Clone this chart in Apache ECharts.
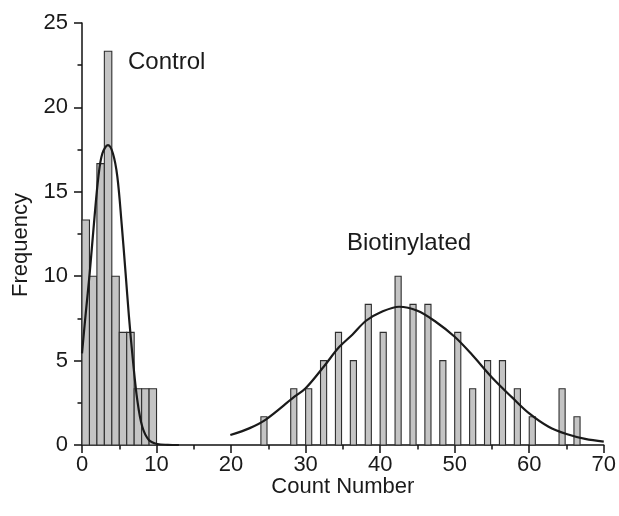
<!DOCTYPE html>
<html><head><meta charset="utf-8">
<script src="https://cdn.jsdelivr.net/npm/echarts@6/dist/echarts.min.js"></script>
<style>html,body{margin:0;padding:0;background:#fff}#c{width:619px;height:516px}</style>
</head><body><div id="c"></div>
<script>
// ---- data ----
const controlBinStart = [0, 1, 2, 3, 4, 5, 6, 7, 8, 9];
const controlFreq     = [13.33, 10, 16.67, 23.33, 10, 6.67, 6.67, 3.33, 3.33, 3.33];

const bioBinStart = [24, 26, 28, 30, 32, 34, 36, 38, 40, 42, 44, 46, 48, 50, 52, 54, 56, 58, 60, 62, 64, 66];
const bioFreq     = [1.67, 0, 3.33, 3.33, 5, 6.67, 5, 8.33, 6.67, 10, 8.33, 8.33, 5, 6.67, 3.33, 5, 5, 3.33, 1.67, 0, 3.33, 1.67];

const controlFitX = [0, 0.5, 1.03, 1.6, 2.2, 2.73, 3.48, 4.15, 4.74, 5.32, 5.85, 6.3, 6.83, 7.42, 8.09, 8.97, 10.1, 11.5, 13];
const controlFitY = [5.43, 7.8, 10.17, 13.1, 15.9, 17.27, 17.76, 17.27, 15.9, 13.1, 10.17, 7.6, 5.03, 2.66, 1.08, 0.3, 0.06, 0.01, 0];

const bioFitX = [19.9, 22.5, 24.7, 28.5, 30, 32.5, 34.5, 36.3, 38.1, 40, 42.55, 45, 47.45, 50, 52.36, 55, 57.7, 60, 62.6, 65, 67.5, 70];
const bioFitY = [0.59, 1.0, 1.52, 2.86, 3.36, 4.68, 5.8, 6.55, 7.36, 7.85, 8.19, 7.95, 7.3, 6.41, 5.33, 4.0, 2.82, 1.87, 1.08, 0.65, 0.36, 0.2];

const seriesLabels = ['Control', 'Biotinylated'];
const xAxisTitle = 'Count Number';
const yAxisTitle = 'Frequency';

// ---- chart ----
const FONT = '"Liberation Sans", Arial, Helvetica, sans-serif';
const TXT = '#1a1a1a';

function zip(a, b) { return a.map((v, i) => [v, b[i]]); }

function barRenderer(widthUnits) {
  return function (params, api) {
    const x0 = api.value(0), v = api.value(1);
    if (!v) return null;
    const pTop = api.coord([x0, v]);
    const pBase = api.coord([x0 + widthUnits, 0]);
    return {
      type: 'rect',
      shape: { x: pTop[0], y: pTop[1], width: pBase[0] - pTop[0], height: pBase[1] - pTop[1] },
      style: { fill: '#c4c4c4', stroke: '#2e2e2e', lineWidth: 1.1 }
    };
  };
}

const chart = echarts.init(document.getElementById('c'), null, { renderer: 'canvas' });
chart.setOption({
  animation: false,
  backgroundColor: '#fff',
  grid: { left: 82, right: 13, top: 23, bottom: 71, containLabel: false },
  xAxis: {
    type: 'value', min: 0, max: 70, interval: 10,
    name: xAxisTitle, nameLocation: 'middle', nameGap: 31, nameMoveOverlap: false,
    nameTextStyle: { fontFamily: FONT, fontSize: 22, color: TXT },
    axisLine: { show: true, onZero: false, lineStyle: { color: '#111', width: 1.5 } },
    axisTick: { show: true, inside: false, length: 8, lineStyle: { color: '#111', width: 1.5 } },
    minorTick: { show: true, splitNumber: 2, length: 4.5, lineStyle: { color: '#111', width: 1.5 } },
    axisLabel: { fontFamily: FONT, fontSize: 22, color: TXT, margin: 9 },
    splitLine: { show: false }
  },
  yAxis: {
    type: 'value', min: 0, max: 25, interval: 5,
    name: yAxisTitle, nameLocation: 'middle', nameGap: 50, nameMoveOverlap: false,
    nameTextStyle: { fontFamily: FONT, fontSize: 22, color: TXT, padding: [0, 22, 0, 0] },
    axisLine: { show: true, lineStyle: { color: '#111', width: 1.5 } },
    axisTick: { show: true, inside: false, length: 8, lineStyle: { color: '#111', width: 1.5 } },
    minorTick: { show: true, splitNumber: 2, length: 4.5, lineStyle: { color: '#111', width: 1.5 } },
    axisLabel: { fontFamily: FONT, fontSize: 22, color: TXT, margin: 14 },
    splitLine: { show: false }
  },
  graphic: [
    { type: 'text', left: 128, top: 50, style: { text: seriesLabels[0], font: '24px ' + FONT, fill: TXT } },
    { type: 'text', left: 347, top: 231, style: { text: seriesLabels[1], font: '24px ' + FONT, fill: TXT } }
  ],
  series: [
    { type: 'custom', name: seriesLabels[0], renderItem: barRenderer(1), data: zip(controlBinStart, controlFreq), z: 2 },
    { type: 'custom', name: seriesLabels[1], renderItem: barRenderer(0.82), data: zip(bioBinStart, bioFreq), z: 2 },
    { type: 'line', data: zip(controlFitX, controlFitY), smooth: 0.35, symbol: 'none',
      lineStyle: { color: '#1a1a1a', width: 2.2 }, z: 3 },
    { type: 'line', data: zip(bioFitX, bioFitY), smooth: 0.35, symbol: 'none',
      lineStyle: { color: '#1a1a1a', width: 2.2 }, z: 3 }
  ]
});
</script>
</body></html>
